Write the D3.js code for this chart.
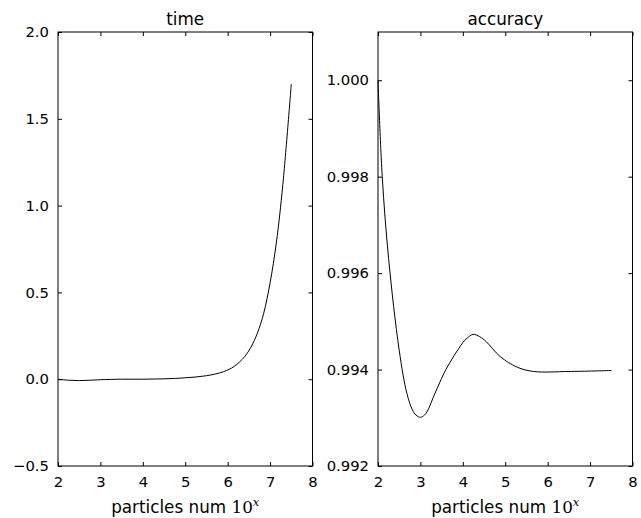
<!DOCTYPE html>
<html>
<head>
<meta charset="utf-8">
<script src="https://cdn.jsdelivr.net/npm/d3@7"></script>
<style>
  body { margin: 0; background: #fff; }
  text { font-family: "DejaVu Sans", sans-serif; fill: #000; }
  .tick text { font-size: 14.8px; }
  .tick line { stroke: #000; }
</style>
</head>
<body>
<div id="chart"></div>
<script>
// time / accuracy vs particles num (10^x)

var timeX = [2.0, 2.25, 2.5, 2.75, 3.0, 3.5, 4.0, 4.5, 5.0, 5.5, 5.9, 6.15, 6.4, 6.55, 6.7, 6.85, 7.0, 7.15, 7.3, 7.5];
var timeY = [0.000, -0.006, -0.008, -0.006, -0.003, 0.000, 0.000, 0.002, 0.008, 0.020, 0.043, 0.073, 0.13, 0.185, 0.265, 0.38, 0.555, 0.79, 1.12, 1.70];

var accX = [2.0, 2.1, 2.25, 2.5, 2.68, 2.83, 2.92, 3.0, 3.1, 3.2, 3.3, 3.4, 3.5, 3.6, 3.7, 3.8, 3.9, 4.0, 4.1, 4.24, 4.4, 4.55, 4.88, 5.28, 5.67, 6.5, 7.5];
var accY = [1.0000, 0.99800, 0.99630, 0.99440, 0.99351, 0.99313, 0.99304, 0.99301, 0.99306, 0.99320, 0.99342, 0.99362, 0.99382, 0.99400, 0.99415, 0.99430, 0.99443, 0.99456, 0.99465, 0.99473, 0.99468, 0.99458, 0.99427, 0.99405, 0.99396, 0.99396, 0.99398];

var xTicks = [2, 3, 4, 5, 6, 7, 8];
var timeTicks = [-0.5, 0.0, 0.5, 1.0, 1.5, 2.0];
var accTicks = [0.992, 0.994, 0.996, 0.998, 1.000];

var svgWidth = 641;
var svgHeight = 518;

var svg = d3.select("#chart")
    .append("svg")
    .attr("width", svgWidth)
    .attr("height", svgHeight);

var plotTop = 32, plotBottom = 466;

var panels = [
    {left: 58, right: 312.5, title: "time", xs: timeX, ys: timeY,
     yDomain: [-0.5, 2.0], yTicks: timeTicks, fmt: d3.format(".1f")},
    {left: 378, right: 632.5, title: "accuracy", xs: accX, ys: accY,
     yDomain: [0.992, 1.001], yTicks: accTicks, fmt: d3.format(".3f")}
];

panels.forEach(function(p) {
    var x = d3.scaleLinear().domain([2, 8]).range([p.left, p.right]);
    var y = d3.scaleLinear().domain(p.yDomain).range([plotBottom, plotTop]);

    // inward ticks on all four sides
    svg.append("g")
        .attr("transform", `translate(0, ${plotBottom})`)
        .call(d3.axisBottom(x).tickValues(xTicks).tickFormat(d3.format("d"))
            .tickSize(-4).tickSizeOuter(0).tickPadding(10))
        .call(g => g.select(".domain").remove());

    svg.append("g")
        .attr("transform", `translate(0, ${plotTop})`)
        .call(d3.axisTop(x).tickValues(xTicks).tickFormat("")
            .tickSize(-4).tickSizeOuter(0))
        .call(g => g.select(".domain").remove());

    svg.append("g")
        .attr("transform", `translate(${p.left}, 0)`)
        .call(d3.axisLeft(y).tickValues(p.yTicks).tickFormat(p.fmt)
            .tickSize(-4).tickSizeOuter(0).tickPadding(9))
        .call(g => g.select(".domain").remove());

    svg.append("g")
        .attr("transform", `translate(${p.right}, 0)`)
        .call(d3.axisRight(y).tickValues(p.yTicks).tickFormat("")
            .tickSize(-4).tickSizeOuter(0))
        .call(g => g.select(".domain").remove());

    // frame
    svg.append("rect")
        .attr("x", p.left)
        .attr("y", plotTop)
        .attr("width", p.right - p.left)
        .attr("height", plotBottom - plotTop)
        .attr("fill", "none")
        .attr("stroke", "#000")
        .attr("stroke-width", 1);

    var line = d3.line()
        .x(d => x(d[0]))
        .y(d => y(d[1]))
        .curve(d3.curveCatmullRom.alpha(0.5));

    svg.append("path")
        .datum(d3.zip(p.xs, p.ys))
        .attr("d", line)
        .attr("fill", "none")
        .attr("stroke", "#000")
        .attr("stroke-width", 1);

    svg.append("text")
        .attr("x", (p.left + p.right) / 2)
        .attr("y", 25)
        .attr("text-anchor", "middle")
        .attr("font-size", "16.8px")
        .text(p.title);

    var lab = svg.append("text")
        .attr("x", (p.left + p.right) / 2)
        .attr("y", 513)
        .attr("text-anchor", "middle")
        .attr("font-size", "16.8px");
    lab.append("tspan").text("particles num ");
    lab.append("tspan").attr("font-family", "DejaVu Serif").text("10");
    lab.append("tspan")
        .attr("font-family", "DejaVu Serif")
        .attr("font-style", "italic")
        .attr("font-size", "11.5px")
        .attr("dy", "-7")
        .text("x");
});
</script>
</body>
</html>
